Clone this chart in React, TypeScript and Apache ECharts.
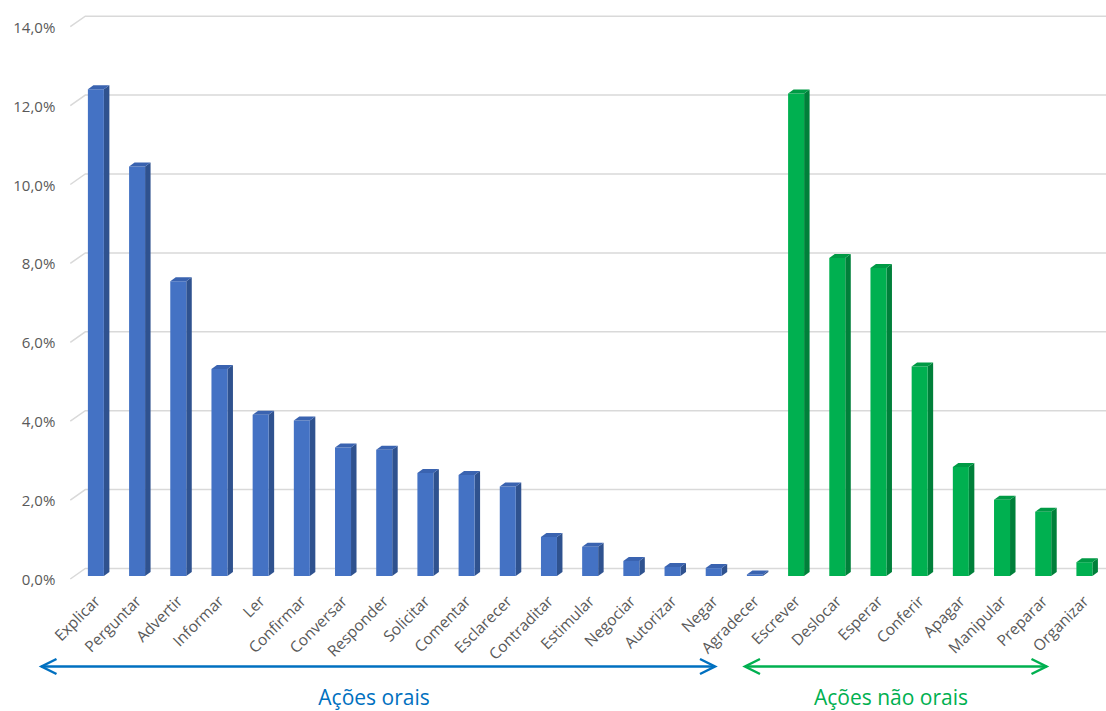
import React, { useEffect, useRef } from "react";
import * as echarts from "echarts";

const oralCategories = [
  "Explicar", "Perguntar", "Advertir", "Informar", "Ler", "Confirmar", "Conversar",
  "Responder", "Solicitar", "Comentar", "Esclarecer", "Contraditar", "Estimular",
  "Negociar", "Autorizar", "Negar", "Agradecer",
];
const oralValues = [
  12.34, 10.38, 7.47, 5.25, 4.09, 3.94, 3.26, 3.2, 2.61, 2.56, 2.27, 0.99, 0.74,
  0.38, 0.23, 0.2, 0.04,
];
const nonOralCategories = [
  "Escrever", "Deslocar", "Esperar", "Conferir", "Apagar", "Manipular", "Preparar", "Organizar",
];
const nonOralValues = [12.23, 8.06, 7.81, 5.31, 2.76, 1.93, 1.63, 0.35];
const yTicks = [0, 2, 4, 6, 8, 10, 12, 14];
const groupLabels = ["Ações orais", "Ações não orais"];

const FONT = "'Open Sans', 'Noto Sans', sans-serif";
const PALETTE = {
  oral: { front: "#4472C4", side: "#2F528F", top: "#3A63B0" },
  nonOral: { front: "#00B050", side: "#00803A", top: "#009A45" },
};

export default function App() {
  const ref = useRef<HTMLDivElement>(null);

  useEffect(() => {
    document.body.style.margin = "0";
    if (!ref.current) return;
    const chart = echarts.init(ref.current, undefined, { renderer: "svg" });

    const categories = [...oralCategories, ...nonOralCategories];
    const barData = [
      ...oralValues.map((v, i) => [i, v, 0]),
      ...nonOralValues.map((v, i) => [oralCategories.length + i, v, 1]),
    ];

    const arrowY = 666.5;
    const arrow = (x1: number, x2: number, color: string) => [
      { type: "line", shape: { x1, y1: arrowY, x2, y2: arrowY }, style: { stroke: color, lineWidth: 2.5 } },
      {
        type: "polyline",
        shape: { points: [[x1 + 15, arrowY - 7.5], [x1, arrowY], [x1 + 15, arrowY + 7.5]] },
        style: { stroke: color, lineWidth: 2.5, fill: "none" },
      },
      {
        type: "polyline",
        shape: { points: [[x2 - 15, arrowY - 7.5], [x2, arrowY], [x2 - 15, arrowY + 7.5]] },
        style: { stroke: color, lineWidth: 2.5, fill: "none" },
      },
    ];

    chart.setOption({
      animation: false,
      backgroundColor: "#ffffff",
      grid: { left: 76.3, top: 26.7, width: 1033, height: 552.3 },
      xAxis: {
        type: "category",
        data: categories,
        axisLine: { show: false },
        axisTick: { show: false },
        splitLine: { show: false },
        axisLabel: {
          interval: 0,
          rotate: 45,
          margin: 19,
          color: "#595959",
          fontSize: 15.5,
          fontFamily: FONT,
        },
      },
      yAxis: {
        type: "value",
        min: 0,
        max: 14,
        interval: 2,
        axisLine: { show: false },
        axisTick: { show: false },
        splitLine: { show: false },
        axisLabel: {
          margin: 21,
          color: "#595959",
          fontSize: 15,
          fontFamily: FONT,
          formatter: (v: number) => v.toFixed(1).replace(".", ",") + "%",
        },
      },
      series: [
        {
          type: "custom",
          z: 1,
          silent: true,
          clip: false,
          data: yTicks.map((v) => [0, v]),
          renderItem: (params: any, api: any) => {
            const v = api.value(1);
            const p = api.coord([0, v]);
            const x0 = params.coordSys.x - 6;
            const y0 = p[1];
            const xr = params.coordSys.x + params.coordSys.width;
            return {
              type: "polyline",
              shape: { points: [[x0, y0], [x0 + 15, y0 - 10.5], [xr, y0 - 10.5]] },
              style: { stroke: "#D9D9D9", lineWidth: 1.5, fill: "none" },
            };
          },
        },
        {
          type: "custom",
          z: 2,
          clip: false,
          data: barData,
          renderItem: (params: any, api: any) => {
            const i = api.value(0);
            const v = api.value(1);
            const g = api.value(2);
            const col = g === 0 ? PALETTE.oral : PALETTE.nonOral;
            const base = api.coord([i, 0]);
            const top = api.coord([i, v]);
            const c = base[0];
            const yb = base[1] - 3;
            const yt = top[1] - 3;
            const dx = 5.5;
            const dy = 4;
            return {
              type: "group",
              children: [
                {
                  type: "polygon",
                  shape: { points: [[c + 7, yt], [c + 7 + dx, yt - dy], [c + 7 + dx, yb - dy], [c + 7, yb]] },
                  style: { fill: col.side },
                },
                {
                  type: "rect",
                  shape: { x: c - 9, y: yt, width: 16, height: Math.max(yb - yt, 0.5) },
                  style: { fill: col.front },
                },
                {
                  type: "polygon",
                  shape: { points: [[c - 9, yt], [c + 7, yt], [c + 7 + dx, yt - dy], [c - 9 + dx, yt - dy]] },
                  style: { fill: col.top },
                },
              ],
            };
          },
        },
      ],
      graphic: [
        ...arrow(41.5, 715, "#0070C0"),
        ...arrow(745, 1046.5, "#00B050"),
        {
          type: "text",
          x: 374,
          y: 697,
          style: {
            text: groupLabels[0],
            fill: "#0070C0",
            fontSize: 21,
            fontFamily: FONT,
            textAlign: "center",
            textVerticalAlign: "middle",
          },
        },
        {
          type: "text",
          x: 891,
          y: 697,
          style: {
            text: groupLabels[1],
            fill: "#00B050",
            fontSize: 21,
            fontFamily: FONT,
            textAlign: "center",
            textVerticalAlign: "middle",
          },
        },
      ],
    });

    return () => chart.dispose();
  }, []);

  return <div ref={ref} style={{ width: 1106, height: 711 }} />;
}
